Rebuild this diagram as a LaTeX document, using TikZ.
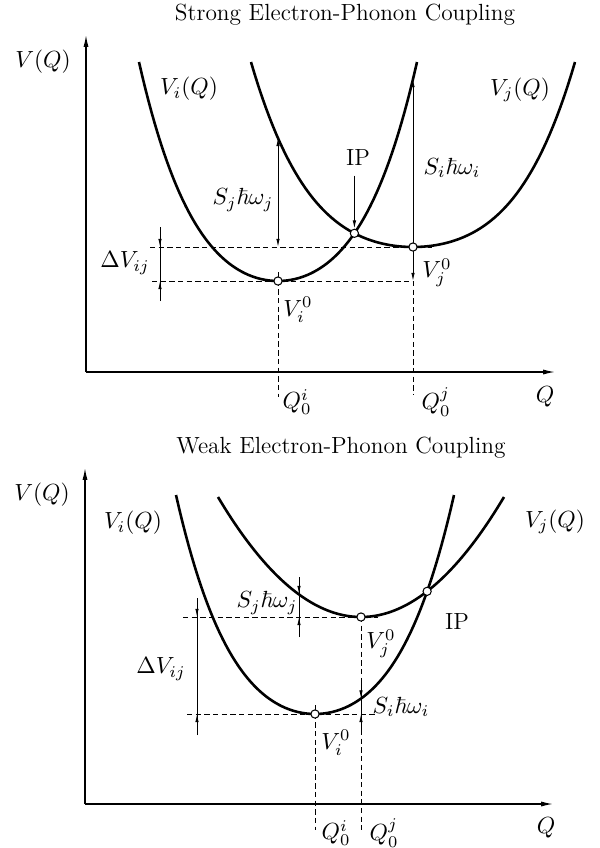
\RequirePackage{fix-cm}
\documentclass[tikz,border=0pt]{standalone}
\usepackage{amsmath,amssymb}
\usepackage{tikz}
\usetikzlibrary{arrows.meta,intersections}

\begin{document}
\begin{tikzpicture}[x=0.017cm, y=-0.017cm, >={Latex[length=1.4mm,width=0.6mm]},
  every node/.style={font=\fontsize{11.3}{13.5}\selectfont, inner sep=1pt},
  declare function={well(\s,\w)=\w*\s*\s+(1-\w)*\s*\s*\s*\s;},
  curve/.style={line width=1.25pt},
  guide/.style={line width=0.45pt, dash pattern=on 2.6pt off 1.6pt},
  axis/.style={line width=0.6pt, -{Latex[length=2mm,width=0.85mm]}},
  dim/.style={line width=0.45pt},
  dot/.style={circle, draw, fill=white, inner sep=0pt, minimum size=0.14cm, line width=0.5pt}]
  \useasboundingbox (0,0) rectangle (600,848);

  % strong coupling
  \node (titleS) at (345,15) {Strong Electron-Phonon Coupling};
  \coordinate (Os) at (86,372);
  \coordinate (ViMinS) at (278,281);
  \coordinate (VjMinS) at (413,247);
  \draw[axis] (Os) -- (86,35);
  \draw[axis] (Os) -- (555,372);
  \node (VQs) at (43,62) {$V(Q)$};
  \node (QLs) at (545,397) {$Q$};
  \node (ViQs) at (189,89) {$V_i(Q)$};
  \node (VjQs) at (520,90) {$V_j(Q)$};
  \node (ipLs) at (358,158) {IP};
  \node (SjLs) at (243,200) {$S_j\hbar\omega_j$};
  \node (SiLs) at (452,168) {$S_i\hbar\omega_i$};
  \node (dVLs) at (125,263) {$\Delta V_{ij}$};
  \node (Vi0Ls) at (298,310) {$V_i^0$};
  \node (Vj0Ls) at (437,273) {$V_j^0$};
  \node (Q0iLs) at (297,402) {$Q_0^i$};
  \node (Q0jLs) at (436,402) {$Q_0^j$};

  \draw[guide] (150,247) -- (432,247);
  \draw[guide] (152,281) -- (VjMinS |- ViMinS);
  \draw[guide] (278,272) -- (278,397);
  \draw[guide] (VjMinS |- ViMinS) -- (413,395);

  \draw[curve, name path=viS] plot[domain=139:417, samples=90] (\x, {281-219*well((\x-278)/139,0.6)});
  \draw[curve, name path=vjS] plot[domain=251:575, samples=90] (\x, {247-185*well((\x-413)/162,0.5)});
  \path[name intersections={of=viS and vjS, by=ipS}];

  \coordinate (SjTopS) at (278,138);
  \coordinate (SiTopS) at (413,79);
  \coordinate (dVaS) at (160,227);
  \coordinate (dVbS) at (160,301);
  \draw[dim, <->] (SjTopS) -- (ViMinS |- VjMinS);
  \draw[dim, <->] (SiTopS) -- (VjMinS |- ViMinS);
  \draw[dim] (dVaS) -- (dVbS);
  \draw[dim, ->] (dVaS) -- (dVaS |- VjMinS);
  \draw[dim, ->] (dVbS) -- (dVbS |- ViMinS);

  \node[dot] (ViDotS) at (ViMinS) {};
  \node[dot] (VjDotS) at (VjMinS) {};
  \node[dot] (ipDotS) at (ipS) {};
  \draw[dim, ->, shorten <=1.2mm] (ipLs.south -| ipDotS) -- (ipDotS.north);

  % weak coupling
  \node (titleW) at (341,448) {Weak Electron-Phonon Coupling};
  \coordinate (Ow) at (85,804);
  \coordinate (ViMinW) at (315,714);
  \coordinate (VjMinW) at (361,617);
  \draw[axis] (Ow) -- (85,468);
  \draw[axis] (Ow) -- (553,804);
  \node (VQw) at (42,495) {$V(Q)$};
  \node (QLw) at (546,828) {$Q$};
  \node (ViQw) at (133,523) {$V_i(Q)$};
  \node (VjQw) at (555,522) {$V_j(Q)$};
  \node (ipLw) at (457,622) {IP};
  \node (SjLw) at (267,603) {$S_j\hbar\omega_j$};
  \node (SiLw) at (401,707) {$S_i\hbar\omega_i$};
  \node (dVLw) at (161,669) {$\Delta V_{ij}$};
  \node (Vi0Lw) at (336,743) {$V_i^0$};
  \node (Vj0Lw) at (381,644) {$V_j^0$};
  \node (Q0iLw) at (336,833) {$Q_0^i$};
  \node (Q0jLw) at (384,833) {$Q_0^j$};

  \draw[guide] (183,617) -- (378,617);
  \draw[guide] (187,714) -- (377,714);
  \draw[guide] (315,705) -- (315,830);
  \draw[guide] (VjMinW) -- (361,830);

  \draw[curve, name path=viW] plot[domain=176:454, samples=90] (\x, {714-219*well((\x-315)/139,0.6)});
  \draw[curve, name path=vjW] plot[domain=218:504, samples=90] (\x, {617-120*well((\x-361)/143,1)});
  \path[name intersections={of=viW and vjW, by=ipW}];

  \coordinate (SjaW) at (299,577);
  \coordinate (SjbW) at (299,637);
  \coordinate (SiaW) at (361,678);
  \coordinate (SibW) at (361,735);
  \coordinate (dVaW) at (197,598);
  \coordinate (dVbW) at (197,735);
  \draw[dim] (SjaW) -- (SjbW);
  \draw[dim, ->] (SjaW) -- (299,594);
  \draw[dim, ->] (SjbW) -- (SjbW |- VjMinW);
  \draw[dim] (SiaW) -- (SibW);
  \draw[dim, ->] (SiaW) -- (361,698.5);
  \draw[dim, ->] (SibW) -- (SibW |- ViMinW);
  \draw[dim] (dVaW) -- (dVbW);
  \draw[dim, ->] (dVaW) -- (dVaW |- VjMinW);
  \draw[dim, ->] (dVbW) -- (dVbW |- ViMinW);

  \node[dot] (ViDotW) at (ViMinW) {};
  \node[dot] (VjDotW) at (VjMinW) {};
  \node[dot] (ipDotW) at (ipW) {};
\end{tikzpicture}
\end{document}
